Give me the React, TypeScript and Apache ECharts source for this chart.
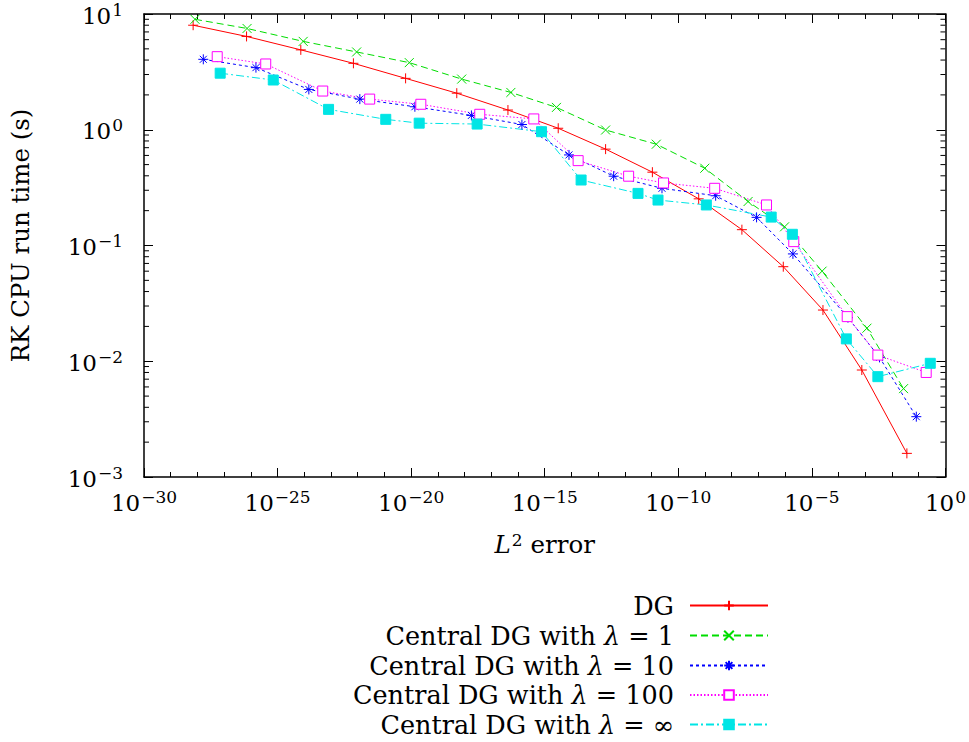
import React, { useEffect, useRef } from "react";
import * as echarts from "echarts";

// L2 error (x) and RK CPU run time in seconds (y) for each method
const dgX = [6.9e-29, 6.9e-27, 7.4e-25, 6.9e-23, 6.2e-21, 5.1e-19, 4.2e-17, 3.2e-15, 1.9e-13, 1.07e-11, 5.8e-10, 2.4e-8, 8.5e-7, 2.6e-5, 7.4e-4, 0.036];
const dgY = [8.0, 6.4, 4.9, 3.75, 2.78, 2.07, 1.48, 1.03, 0.68, 0.43, 0.253, 0.137, 0.0656, 0.0277, 0.0084, 0.0016];

const c1X = [8.1e-29, 7.2e-27, 9.1e-25, 9.1e-23, 8.5e-21, 7.8e-19, 5.4e-17, 2.75e-15, 1.9e-13, 1.5e-11, 9.8e-10, 4.1e-8, 9.5e-7, 2.4e-5, 1.15e-3, 0.027];
const c1Y = [9.0, 7.5, 5.8, 4.7, 3.8, 2.74, 2.1, 1.56, 0.995, 0.75, 0.465, 0.24, 0.145, 0.06, 0.0193, 0.0058];

const c10X = [1.66e-28, 1.55e-26, 1.48e-24, 1.2e-22, 1.38e-20, 1.8e-18, 1.4e-16, 8.1e-15, 3.8e-13, 2.45e-11, 2.5e-9, 8.5e-8, 1.95e-6, 2.24e-4, 3.4e-3, 0.081];
const c10Y = [4.06, 3.44, 2.23, 1.84, 1.58, 1.33, 1.11, 0.606, 0.397, 0.312, 0.269, 0.175, 0.0846, 0.0238, 0.0108, 0.00332];

const c100X = [5.5e-28, 3.6e-26, 4.9e-24, 2.8e-22, 2.3e-20, 3.7e-18, 3.9e-16, 1.78e-14, 1.38e-12, 2.8e-11, 2.3e-9, 2.0e-7, 2.1e-6, 2.1e-4, 2.95e-3, 0.19];
const c100Y = [4.28, 3.7, 2.16, 1.84, 1.66, 1.36, 1.24, 0.541, 0.397, 0.347, 0.312, 0.224, 0.108, 0.0243, 0.0113, 0.008];

const cInfX = [7.1e-28, 6.9e-26, 8.1e-24, 1.12e-21, 2.0e-20, 2.95e-18, 7.6e-16, 2.3e-14, 3.1e-12, 1.74e-11, 1.12e-9, 3.0e-7, 1.86e-6, 1.95e-4, 2.95e-3, 0.27];
const cInfY = [3.08, 2.69, 1.5, 1.23, 1.14, 1.12, 0.962, 0.368, 0.282, 0.247, 0.224, 0.176, 0.125, 0.0156, 0.00736, 0.0096];

const seriesNames = [
  "DG",
  "Central DG with λ = 1",
  "Central DG with λ = 10",
  "Central DG with λ = 100",
  "Central DG with λ = ∞",
];

// x axis: decades (exponents of 10) from 10^-30 to 10^0
const X_MIN_EXP = -30;
const X_MAX_EXP = 0;
// y axis range (log axis)
const Y_MIN = 0.001;
const Y_MAX = 10;

// y minor tick positions (2..9 × 10^k)
const yMinorTicks: number[] = [];
for (let k = -3; k <= 0; k++) for (let m = 2; m <= 9; m++) yMinorTicks.push(m * Math.pow(10, k));

const FONT = "DejaVu Serif";

const PLUS = "path://M0,5L10,5M5,0L5,10";
const CROSS = "path://M0,0L10,10M0,10L10,0";
const STAR = "path://M0,5L10,5M5,0L5,10M1.5,1.5L8.5,8.5M1.5,8.5L8.5,1.5";

// x is placed on a decade (log10) value axis, y on a log axis
function zip(xs: number[], ys: number[]) {
  return xs.map((x, i) => [Math.log10(x), ys[i]]);
}

function expText(e: number) {
  const r = Math.round(e);
  const s = r < 0 ? "−" + Math.abs(r) : String(r);
  return `{b|10}{e|${s}}`;
}

const richExp = {
  b: { fontFamily: FONT, fontSize: 23, lineHeight: 26, verticalAlign: "bottom", color: "#000" },
  e: { fontFamily: FONT, fontSize: 17, lineHeight: 18, verticalAlign: "top", padding: [0, 0, 12, 1], color: "#000" },
};

export default function App() {
  const ref = useRef<HTMLDivElement>(null);
  useEffect(() => {
    if (!ref.current) return;
    const chart = echarts.init(ref.current, undefined, { renderer: "svg" });

    const lineSeries = (name: string, data: number[][], color: string, type: any, symbol: string, filled: boolean, size: number) => ({
      name,
      type: "line",
      data,
      xAxisIndex: 0,
      yAxisIndex: 0,
      symbol,
      symbolSize: size,
      showSymbol: true,
      lineStyle: { color, width: 1, type },
      itemStyle: { color: filled ? color : "#fff", borderColor: color, borderWidth: 1 },
      emphasis: { disabled: true },
      z: 3,
    });

    const xAxisBase = {
      type: "value",
      min: X_MIN_EXP,
      max: X_MAX_EXP,
      interval: 5,
      splitLine: { show: false },
      axisLine: { show: true, onZero: false, lineStyle: { color: "#000", width: 1.5 } },
      axisTick: { show: true, inside: true, length: 9, lineStyle: { color: "#000", width: 1 } },
      minorTick: { show: true, splitNumber: 5, length: 5, lineStyle: { color: "#000", width: 1 } },
    };
    const yAxisBase = {
      type: "log",
      min: Y_MIN,
      max: Y_MAX,
      logBase: 10,
      splitLine: { show: false },
      axisLine: { show: true, onZero: false, lineStyle: { color: "#000", width: 1.5 } },
      axisTick: { show: true, inside: true, length: 9, lineStyle: { color: "#000", width: 1 } },
    };

    const legendRows = [605.5, 635.5, 665.5, 695, 724.5];
    const LF = 25.5;

    chart.setOption({
      animation: false,
      backgroundColor: "#fff",
      grid: { left: 144, top: 14, right: 23, bottom: 265 },
      xAxis: [
        {
          ...xAxisBase,
          position: "bottom",
          name: "{i|L}{s|2}{n| error}",
          nameLocation: "middle",
          nameGap: 54,
          nameTextStyle: {
            rich: {
              i: { fontFamily: FONT, fontStyle: "italic", fontSize: 24.5, lineHeight: 26, verticalAlign: "bottom", color: "#000" },
              s: { fontFamily: FONT, fontSize: 17, lineHeight: 18, verticalAlign: "top", padding: [0, 0, 12, 1], color: "#000" },
              n: { fontFamily: FONT, fontSize: 24.5, lineHeight: 26, verticalAlign: "bottom", color: "#000" },
            },
          },
          axisLabel: { show: true, margin: 11, formatter: (v: number) => expText(v), rich: richExp },
        },
        { ...xAxisBase, position: "top", axisLabel: { show: false } },
      ],
      yAxis: [
        {
          ...yAxisBase,
          position: "left",
          name: "RK CPU run time (s)",
          nameLocation: "middle",
          nameGap: 111,
          nameTextStyle: { fontFamily: FONT, fontSize: 24.5, color: "#000", padding: [0, 0, 0, 20] },
          axisLabel: { show: true, margin: 21, formatter: (v: number) => expText(Math.log10(v)), rich: richExp },
        },
        { ...yAxisBase, position: "right", axisLabel: { show: false } },
      ],
      legend: seriesNames.map((name, i) => ({
        data: [name],
        orient: "vertical",
        right: 195,
        top: legendRows[i] - 19,
        align: "right",
        itemWidth: 78,
        itemHeight: 12,
        selectedMode: false,
        textStyle: {
          fontFamily: FONT,
          fontSize: LF,
          lineHeight: 28,
          color: "#000",
          padding: [0, 11, 0, 0],
          rich: {
            t: { fontFamily: FONT, fontSize: LF, lineHeight: 28, color: "#000" },
            i: { fontFamily: FONT, fontSize: LF, lineHeight: 28, fontStyle: "italic", color: "#000" },
          },
        },
        formatter: (n: string) => {
          const idx = n.indexOf("λ");
          if (idx < 0) return `{t|${n}}`;
          return `{t|${n.slice(0, idx)}}{i|λ}{t|${n.slice(idx + 1)}}`;
        },
      })),
      series: [
        lineSeries(seriesNames[0], zip(dgX, dgY), "#ff0000", "solid", PLUS, false, 10),
        lineSeries(seriesNames[1], zip(c1X, c1Y), "#00dd00", [7, 4], CROSS, false, 9),
        lineSeries(seriesNames[2], zip(c10X, c10Y), "#0000ff", [3, 3], STAR, false, 10),
        lineSeries(seriesNames[3], zip(c100X, c100Y), "#ff00ff", [1.5, 2], "rect", false, 10),
        lineSeries(seriesNames[4], zip(cInfX, cInfY), "#00e5e5", [8, 3, 2, 3], "rect", true, 10),
        {
          type: "custom",
          silent: true,
          xAxisIndex: 0,
          yAxisIndex: 0,
          data: yMinorTicks.map((v) => [-15, v]),
          renderItem: (params: any, api: any) => {
            const cs = params.coordSys;
            const pt = api.coord([-15, api.value(1)]);
            const st = { stroke: "#000", lineWidth: 1 };
            return {
              type: "group",
              children: [
                { type: "line", shape: { x1: cs.x, y1: pt[1], x2: cs.x + 5, y2: pt[1] }, style: st },
                { type: "line", shape: { x1: cs.x + cs.width - 5, y1: pt[1], x2: cs.x + cs.width, y2: pt[1] }, style: st },
              ],
            };
          },
          z: 1,
        },
      ],
    });
    return () => chart.dispose();
  }, []);
  return (
    <div
      ref={ref}
      style={{ position: "fixed", left: 0, top: 0, width: "969px", height: "742px", background: "#fff" }}
    />
  );
}
